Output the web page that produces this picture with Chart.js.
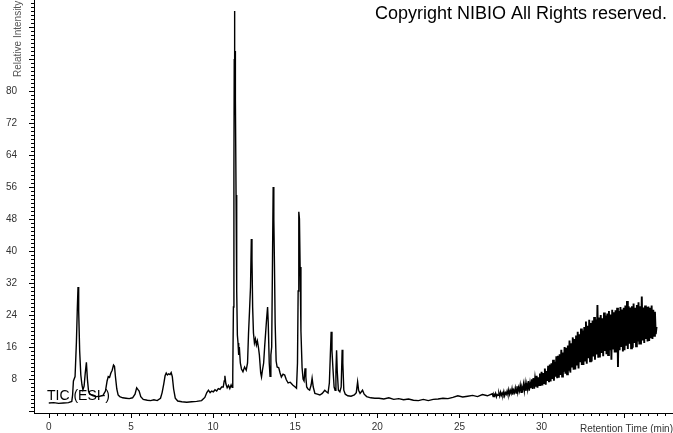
<!DOCTYPE html>
<html>
<head>
<meta charset="utf-8">
<script src="https://cdn.jsdelivr.net/npm/chart.js@4.4.1/dist/chart.umd.min.js"></script>
<style>
  html, body { margin: 0; padding: 0; background: #fff; }
  canvas { display: block; }
</style>
</head>
<body>
<canvas id="tic" width="673" height="433"></canvas>
<script>
// TIC (ESI-) chromatogram, retention time (min) vs relative intensity (%)

// 0 - 10.5 min: early eluting peaks
const earlyTime = [
  0.0, 0.3, 0.6, 0.9, 1.2, 1.4, 1.45, 1.5, 1.6, 1.68,
  1.74, 1.78, 1.82, 1.88, 1.95, 2.02, 2.08, 2.15, 2.22, 2.29,
  2.35, 2.42, 2.5, 2.7, 2.9, 3.1, 3.3, 3.45, 3.55, 3.62,
  3.7, 3.78, 3.86, 3.94, 4.0, 4.06, 4.14, 4.22, 4.32, 4.5,
  4.7, 4.9, 5.1, 5.25, 5.35, 5.42, 5.5, 5.6, 5.75, 6.0,
  6.2, 6.4, 6.6, 6.8, 6.9, 7.0, 7.08, 7.15, 7.22, 7.3,
  7.38, 7.45, 7.52, 7.6, 7.7, 7.85, 8.1, 8.4, 8.7, 9.0,
  9.3, 9.5, 9.62, 9.72, 9.82, 9.92, 10.02, 10.12, 10.22, 10.32,
  10.42, 10.52
]
const earlyTic = [
  2.0, 2.1, 1.9, 2.0, 2.1, 2.4, 4.0, 7.5, 8.6, 17,
  26, 31, 25, 15, 9, 6.5, 5.3, 6.2, 9.5, 12.2,
  8, 5, 4.2, 3.8, 3.6, 3.7, 3.9, 5, 7.5, 8.6,
  8.4, 9.5, 10.2, 11.5, 11.2, 8.5, 5.5, 4, 3.6, 3.3,
  3.2, 3.1, 3.3, 4.2, 5.8, 5.4, 5.0, 3.6, 2.9, 2.7,
  2.6, 2.8, 2.6, 3.2, 4.6, 6.8, 8.8, 9.5, 9.0, 9.3,
  9.1, 9.6, 8.6, 5.5, 3.2, 2.5, 2.3, 2.2, 2.3, 2.4,
  2.6, 3.4, 4.6, 5.2, 4.6, 5.0, 4.8, 5.3, 5.0, 5.6,
  5.4, 6.0
]

// 10.6 - 20 min: main peak cluster
const peakTime = [
  10.62, 10.68, 10.72, 10.78, 10.86, 10.94, 11.02, 11.1, 11.16, 11.2,
  11.24, 11.27, 11.29, 11.3, 11.31, 11.32, 11.33, 11.34, 11.36, 11.4,
  11.44, 11.48, 11.52, 11.56, 11.6, 11.66, 11.73, 11.82, 11.92, 12.02,
  12.1, 12.16, 12.22, 12.28, 12.33, 12.37, 12.41, 12.46, 12.52, 12.58,
  12.64, 12.7, 12.76, 12.82, 12.9, 12.95, 13.0, 13.08, 13.14, 13.2,
  13.26, 13.32, 13.36, 13.42, 13.47, 13.52, 13.57, 13.62, 13.66, 13.7,
  13.74, 13.78, 13.84, 13.9, 14.0, 14.08, 14.16, 14.26, 14.36, 14.46,
  14.57, 14.7, 14.85, 15.0, 15.08, 15.14, 15.18, 15.22, 15.26, 15.3,
  15.35, 15.42, 15.48, 15.54, 15.6, 15.65, 15.7, 15.78, 15.88, 15.97,
  16.03, 16.1, 16.2, 16.35, 16.5, 16.65, 16.8, 16.9, 17.0, 17.08,
  17.14, 17.19, 17.24, 17.3, 17.37, 17.43, 17.48, 17.52, 17.56, 17.63,
  17.72, 17.8, 17.86, 17.9, 17.96, 18.05, 18.2, 18.4, 18.6, 18.72,
  18.8, 18.86, 18.95, 19.1, 19.2, 19.35, 19.6, 19.85
]
const peakTic = [
  6.0, 7.5, 8.8, 6.8, 5.8, 6.4, 5.6, 6.5, 5.9, 9,
  26, 60, 88, 100, 86, 92, 85, 90, 78, 54,
  30, 19, 17, 14, 16, 12, 10.5, 9.8, 11, 10.2,
  12, 19.5, 25, 31, 43, 38, 26, 19.5, 17, 18,
  16.5, 17.5, 16, 14, 9.5, 8.5, 10, 12, 16, 19.5,
  23, 26, 22, 12, 8.7, 14, 16, 38, 56, 48,
  36, 22, 12.5, 11, 10.8, 9.5, 8.5, 9.2, 9, 7.8,
  7, 7.2, 6.5, 6.0, 5.7, 12, 30, 49.8, 48, 36,
  20, 10.8, 8, 7.5, 10.7, 8.5, 6, 5.5, 5.2, 6.5,
  8.2, 6, 4.4, 4.2, 4.0, 4.4, 5.2, 4.8, 4.5, 7,
  14, 19.8, 15, 10.5, 6, 5.2, 10, 15.2, 10, 5.2,
  4.8, 6, 15.3, 12, 5.2, 4.2, 3.8, 3.7, 4.0, 4.6,
  7.3, 5.2, 4.4, 5.2, 4.2, 3.6, 3.3, 3.2
]

// 20 - 27 min: quiet baseline before the gradient rise
const baseTime = [
  20.1, 20.4, 20.7, 21.0, 21.3, 21.6, 21.9, 22.2, 22.5, 22.8,
  23.1, 23.4, 23.7, 24.0, 24.3, 24.6, 24.9, 25.2, 25.5, 25.8,
  26.1, 26.4, 26.7
]
const baseTic = [
  3.2, 3.0, 3.3, 2.9, 3.1, 2.8, 3.0, 2.7, 2.6, 2.9,
  2.6, 2.9, 3.0, 3.2, 3.1, 3.4, 3.8, 3.5, 3.7, 3.9,
  3.6, 4.1, 3.8
]

// 27 - 37 min: noisy column bleed at the end of the gradient
const bleedTime = [
  27.00, 27.05, 27.10, 27.15, 27.20, 27.25, 27.30, 27.35, 27.40, 27.45,
  27.50, 27.55, 27.60, 27.65, 27.70, 27.75, 27.80, 27.85, 27.90, 27.95,
  28.00, 28.05, 28.10, 28.15, 28.20, 28.25, 28.30, 28.35, 28.40, 28.45,
  28.50, 28.55, 28.60, 28.65, 28.70, 28.75, 28.80, 28.85, 28.90, 28.95,
  29.00, 29.05, 29.10, 29.15, 29.20, 29.25, 29.30, 29.35, 29.40, 29.45,
  29.50, 29.55, 29.60, 29.65, 29.70, 29.75, 29.80, 29.85, 29.90, 29.95,
  30.00, 30.05, 30.10, 30.15, 30.20, 30.25, 30.30, 30.35, 30.40, 30.45,
  30.50, 30.55, 30.60, 30.65, 30.70, 30.75, 30.80, 30.85, 30.90, 30.95,
  31.00, 31.05, 31.10, 31.15, 31.20, 31.25, 31.30, 31.35, 31.40, 31.45,
  31.50, 31.55, 31.60, 31.65, 31.70, 31.75, 31.80, 31.85, 31.90, 31.95,
  32.00, 32.05, 32.10, 32.15, 32.20, 32.25, 32.30, 32.35, 32.40, 32.45,
  32.50, 32.55, 32.60, 32.65, 32.70, 32.75, 32.80, 32.85, 32.90, 32.95,
  33.00, 33.05, 33.10, 33.15, 33.20, 33.25, 33.30, 33.35, 33.40, 33.45,
  33.50, 33.55, 33.60, 33.65, 33.70, 33.75, 33.80, 33.85, 33.90, 33.95,
  34.00, 34.05, 34.10, 34.15, 34.20, 34.25, 34.30, 34.35, 34.40, 34.45,
  34.50, 34.55, 34.60, 34.65, 34.70, 34.75, 34.80, 34.85, 34.90, 34.95,
  35.00, 35.05, 35.10, 35.15, 35.20, 35.25, 35.30, 35.35, 35.40, 35.45,
  35.50, 35.55, 35.60, 35.65, 35.70, 35.75, 35.80, 35.85, 35.90, 35.95,
  36.00, 36.05, 36.10, 36.15, 36.20, 36.25, 36.30, 36.35, 36.40, 36.45,
  36.50, 36.55, 36.60, 36.65, 36.70, 36.75, 36.80, 36.85, 36.90, 36.95,
  37.00
]
const bleedTic = [
  4.3, 3.6, 4.2, 3.8, 4.4, 3.5, 4.1, 3.9, 4.5, 3.7,
  4.7, 3.9, 4.5, 4.0, 4.9, 3.8, 4.6, 4.2, 5.0, 4.1,
  5.3, 4.2, 5.1, 4.4, 5.6, 4.1, 5.2, 4.6, 5.8, 4.5,
  6.2, 4.6, 5.9, 5.0, 6.5, 4.7, 6.0, 5.3, 6.8, 5.0,
  7.0, 5.0, 6.8, 5.4, 7.5, 5.1, 7.1, 5.7, 7.9, 5.5,
  8.2, 5.6, 7.9, 6.1, 8.8, 5.8, 8.4, 6.5, 9.4, 6.3,
  9.8, 6.4, 9.5, 7.0, 10.6, 6.6, 10.0, 7.5, 11.3, 7.2,
  11.6, 7.4, 11.9, 8.0, 12.8, 7.6, 12.3, 8.6, 13.7, 8.2,
  13.8, 8.3, 14.2, 9.0, 15.3, 8.6, 14.6, 9.8, 16.0, 9.3,
  15.8, 9.2, 16.4, 10.1, 17.6, 9.6, 16.9, 10.9, 18.4, 10.3,
  18.0, 10.4, 18.9, 11.4, 19.8, 10.6, 19.2, 12.2, 20.6, 11.5,
  20.1, 11.5, 21.0, 12.6, 22.4, 11.8, 21.3, 13.2, 22.8, 12.4,
  22.0, 12.4, 22.6, 13.6, 23.5, 12.8, 22.9, 14.1, 26.5, 13.3,
  23.4, 13.4, 24.0, 14.5, 23.2, 13.7, 24.6, 15.0, 23.9, 14.2,
  24.4, 14.0, 25.0, 15.2, 24.1, 12.8, 25.3, 15.6, 24.7, 14.6,
  25.2, 14.6, 25.8, 11.0, 25.0, 15.2, 26.0, 16.0, 25.4, 14.9,
  25.8, 15.2, 26.4, 16.3, 27.5, 15.5, 26.2, 16.8, 25.9, 15.7,
  26.2, 15.8, 26.9, 17.0, 25.8, 16.2, 26.5, 17.4, 27.2, 16.6,
  26.2, 16.6, 28.6, 17.6, 25.9, 17.0, 26.4, 18.0, 26.0, 17.4,
  26.1, 17.5, 25.8, 18.2, 26.4, 18.0, 25.3, 18.8, 24.8, 19.2,
  21.0
]

// axis labelling
const xLabels = [0, 5, 10, 15, 20, 25, 30]
const yLabels = [8, 16, 24, 32, 40, 48, 56, 64, 72, 80]
const traceName = "TIC (ESI-)"
const xTitle = "Retention Time (min)"
const yTitle = "Relative Intensity"
const copyright = "Copyright NIBIO All Rights reserved."

const times = earlyTime.concat(peakTime, baseTime, bleedTime)
const tic = earlyTic.concat(peakTic, baseTic, bleedTic)
const points = times.map((t, i) => ({ x: t, y: tic[i] }))

const FONT = '"Liberation Sans", Arial, sans-serif'

// tick marks and free text, drawn against the chart's own scales
const decorations = {
  id: "decorations",
  afterDraw(chart) {
    const { ctx, chartArea, scales: { x, y } } = chart
    ctx.save()
    ctx.strokeStyle = "#000"
    ctx.lineWidth = 1
    ctx.beginPath()
    x.ticks.forEach(t => {
      const px = Math.round(x.getPixelForValue(t.value)) + 0.5
      const len = t.value % 5 === 0 ? 5 : 3
      ctx.moveTo(px, chartArea.bottom)
      ctx.lineTo(px, chartArea.bottom + len)
    })
    y.ticks.forEach(t => {
      const py = Math.round(y.getPixelForValue(t.value)) + 0.5
      const len = t.value % 8 === 0 ? 5 : 3
      ctx.moveTo(chartArea.left - len, py)
      ctx.lineTo(chartArea.left, py)
    })
    ctx.stroke()

    ctx.fillStyle = "#000"
    ctx.textBaseline = "alphabetic"
    ctx.textAlign = "left"
    ctx.font = "18px " + FONT
    ctx.fillText(copyright, 375, 18.5)
    ctx.font = "14px " + FONT
    ctx.fillText(traceName, 47, 400)

    ctx.fillStyle = "#333"
    ctx.font = "10px " + FONT
    ctx.fillText(xTitle, 580, 432)

    ctx.translate(18.5, 77)
    ctx.rotate(-Math.PI / 2)
    ctx.textBaseline = "middle"
    ctx.fillStyle = "#555"
    ctx.fillText(yTitle, 0, 0)
    ctx.restore()
  }
}

function noPadding(scale) {
  scale.paddingTop = 0
  scale.paddingBottom = 0
  scale.paddingLeft = 0
  scale.paddingRight = 0
}

new Chart(document.getElementById("tic"), {
  type: "scatter",
  data: {
    datasets: [{
      label: traceName,
      data: points,
      showLine: true,
      borderColor: "#000",
      borderWidth: 1.4,
      pointRadius: 0,
      tension: 0,
      // the dense bleed region reads as a solid band in the original
      segment: {
        borderWidth: c => c.p0.parsed.x >= 29.5 ? 1.9 : 1.4
      }
    }]
  },
  options: {
    responsive: false,
    animation: false,
    layout: { padding: 0, autoPadding: false },
    plugins: {
      legend: { display: false },
      tooltip: { enabled: false }
    },
    scales: {
      x: {
        type: "linear",
        min: -0.9,
        max: 38.0,
        grid: { display: false, drawTicks: false },
        border: { display: true, color: "#000", width: 1 },
        afterBuildTicks(scale) {
          const ticks = []
          for (let v = 0; v <= 37.5; v += 0.5) ticks.push({ value: v })
          scale.ticks = ticks
        },
        afterFit(scale) {
          scale.height = 20
          noPadding(scale)
        },
        ticks: {
          autoSkip: false,
          maxRotation: 0,
          padding: 8,
          color: "#333",
          font: { family: FONT, size: 10 },
          callback: v => xLabels.includes(v) ? String(v) : ""
        }
      },
      y: {
        type: "linear",
        min: -0.5,
        max: 102.75,
        grid: { display: false, drawTicks: false },
        border: { display: true, color: "#000", width: 1 },
        afterBuildTicks(scale) {
          const ticks = []
          for (let v = 0; v <= 102; v += 1) ticks.push({ value: v })
          scale.ticks = ticks
        },
        afterFit(scale) {
          scale.width = 34
          noPadding(scale)
        },
        ticks: {
          autoSkip: false,
          padding: 17,
          color: "#333",
          font: { family: FONT, size: 10 },
          callback: v => yLabels.includes(v) ? String(v) : ""
        }
      }
    }
  },
  plugins: [decorations]
})
</script>
</body>
</html>
